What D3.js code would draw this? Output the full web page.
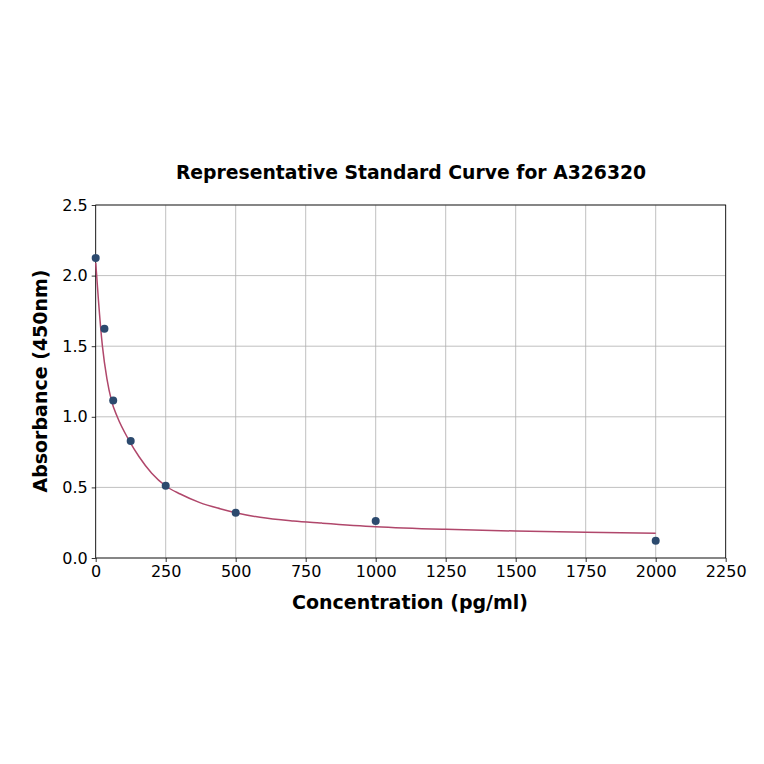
<!DOCTYPE html>
<html>
<head>
<meta charset="utf-8">
<script src="https://cdn.jsdelivr.net/npm/d3@7"></script>
<style>
  body { margin: 0; background: #fff; }
  svg { font-family: "DejaVu Sans", sans-serif; }
</style>
</head>
<body>
<div class="chart"></div>
<script>
// standard points
var concentrations = [0, 31.25, 62.5, 125, 250, 500, 1000, 2000];
var absorbances = [2.125, 1.624, 1.116, 0.828, 0.511, 0.321, 0.262, 0.123];

// fitted curve
var curveX = [0, 3.5, 10, 24, 40, 57, 77, 120, 155, 200, 250, 302, 372, 444, 500, 587, 706, 801, 1000, 1250, 1500, 1750, 2000];
var curveY = [2.09, 2.0, 1.82, 1.5, 1.27, 1.11, 1.0, 0.83, 0.717, 0.60, 0.51, 0.453, 0.392, 0.349, 0.321, 0.288, 0.262, 0.248, 0.222, 0.203, 0.191, 0.182, 0.175];

var xTicks = [0, 250, 500, 750, 1000, 1250, 1500, 1750, 2000, 2250];
var yTicks = [0, 0.5, 1.0, 1.5, 2.0, 2.5];

var width = 764,
    height = 764,
    plotLeft = 95.7, plotRight = 725.7,
    plotTop = 205, plotBottom = 558;

var svg = d3.select('.chart').append('svg')
    .attr('width', width)
    .attr('height', height);

var x = d3.scaleLinear().domain([0, 2250]).range([plotLeft, plotRight]);
var y = d3.scaleLinear().domain([0, 2.5]).range([plotBottom, plotTop]);

// grid
svg.append('g').selectAll('line').data(xTicks).enter().append('line')
    .attr('x1', function (d) { return x(d); })
    .attr('x2', function (d) { return x(d); })
    .attr('y1', plotTop).attr('y2', plotBottom)
    .attr('stroke', '#b0b0b0').attr('stroke-width', 0.8);
svg.append('g').selectAll('line').data(yTicks).enter().append('line')
    .attr('y1', function (d) { return y(d); })
    .attr('y2', function (d) { return y(d); })
    .attr('x1', plotLeft).attr('x2', plotRight)
    .attr('stroke', '#b0b0b0').attr('stroke-width', 0.8);

// axes
var xAxis = svg.append('g')
    .attr('transform', 'translate(0,' + plotBottom + ')')
    .call(d3.axisBottom(x).tickValues(xTicks).tickSize(4).tickPadding(4).tickFormat(d3.format('d')));
var yAxis = svg.append('g')
    .attr('transform', 'translate(' + plotLeft + ',0)')
    .call(d3.axisLeft(y).tickValues(yTicks).tickSize(4).tickPadding(4).tickFormat(d3.format('.1f')));
[xAxis, yAxis].forEach(function (a) {
    a.select('.domain').remove();
    a.selectAll('text').attr('font-size', 16).attr('fill', '#000').attr('font-family', '"DejaVu Sans", sans-serif');
    a.selectAll('line').attr('stroke', '#000').attr('stroke-width', 0.8);
});

// frame
svg.append('rect')
    .attr('x', plotLeft).attr('y', plotTop)
    .attr('width', plotRight - plotLeft).attr('height', plotBottom - plotTop)
    .attr('fill', 'none').attr('stroke', '#000').attr('stroke-width', 0.8);

// curve
var curvePts = curveX.map(function (d, i) { return [d, curveY[i]]; });
svg.append('path')
    .datum(curvePts)
    .attr('d', d3.line()
        .x(function (d) { return x(d[0]); })
        .y(function (d) { return y(d[1]); })
        .curve(d3.curveMonotoneX))
    .attr('fill', 'none')
    .attr('stroke', '#b0476b')
    .attr('stroke-width', 1.5);

// points
svg.append('g').selectAll('circle').data(concentrations).enter().append('circle')
    .attr('cx', function (d) { return x(d); })
    .attr('cy', function (d, i) { return y(absorbances[i]); })
    .attr('r', 4)
    .attr('fill', '#2c4a6e');

// titles
svg.append('text')
    .attr('x', 411).attr('y', 179)
    .attr('text-anchor', 'middle')
    .attr('font-size', 18.8).attr('font-weight', 'bold')
    .text('Representative Standard Curve for A326320');
svg.append('text')
    .attr('x', 410).attr('y', 609)
    .attr('text-anchor', 'middle')
    .attr('font-size', 19).attr('font-weight', 'bold')
    .text('Concentration (pg/ml)');
svg.append('text')
    .attr('transform', 'translate(47,381) rotate(-90)')
    .attr('text-anchor', 'middle')
    .attr('font-size', 19).attr('font-weight', 'bold')
    .text('Absorbance (450nm)');
</script>
</body>
</html>
